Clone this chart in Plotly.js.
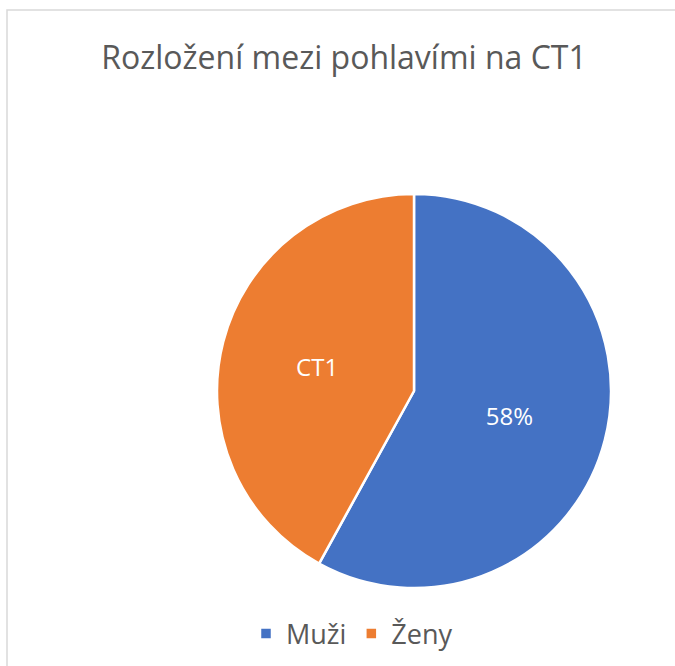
<!DOCTYPE html>
<html>
<head>
<meta charset="utf-8">
<script src="https://cdn.plot.ly/plotly-3.0.1.min.js"></script>
<style>
  html, body { margin: 0; padding: 0; background: #ffffff; }
  #chart { width: 675px; height: 666px; }
</style>
</head>
<body>
<div id="chart"></div>
<script>
const categories = ["Muži", "Ženy"];
const values = [58, 42];
const sliceText = ["%{percent:.0%}", "CT1"];
const colors = ["#4472C4", "#ED7D31"];
const titleText = "Rozložení mezi pohlavími na CT1";

const trace = {
  type: "pie",
  labels: categories,
  values: values,
  sort: false,
  direction: "clockwise",
  rotation: 0,
  texttemplate: sliceText,
  textinfo: "text",
  textposition: "inside",
  insidetextorientation: "horizontal",
  insidetextfont: { family: "Open Sans, sans-serif", size: 24, color: "#ffffff" },
  marker: { colors: colors, line: { color: "#ffffff", width: 2.5 } },
  domain: { x: [217 / 675, 611 / 675], y: [(666 - 588) / 666, (666 - 194) / 666] },
  hoverinfo: "label+percent"
};

const layout = {
  width: 675,
  height: 666,
  margin: { l: 0, r: 0, t: 0, b: 0 },
  paper_bgcolor: "#ffffff",
  font: { family: "Open Sans, sans-serif", color: "#595959" },
  title: {
    text: titleText,
    font: { family: "Open Sans, sans-serif", size: 32, color: "#595959" },
    x: 344 / 675,
    xanchor: "center",
    xref: "paper",
    y: 1 - 58 / 666,
    yanchor: "middle",
    yref: "container"
  },
  showlegend: true,
  legend: {
    orientation: "h",
    x: 352 / 675,
    xanchor: "center",
    y: 32 / 666,
    yanchor: "middle",
    font: { family: "Open Sans, sans-serif", size: 27, color: "#595959" },
    itemclick: false
  },
  shapes: [{
    type: "rect",
    xref: "paper",
    yref: "paper",
    x0: 7 / 675,
    x1: 1.02,
    y0: -0.02,
    y1: 1 - 10 / 666,
    line: { color: "#d9d9d9", width: 1.5 },
    fillcolor: "rgba(0,0,0,0)",
    layer: "below"
  }]
};

Plotly.newPlot("chart", [trace], layout, { displayModeBar: false, staticPlot: true });
</script>
</body>
</html>
